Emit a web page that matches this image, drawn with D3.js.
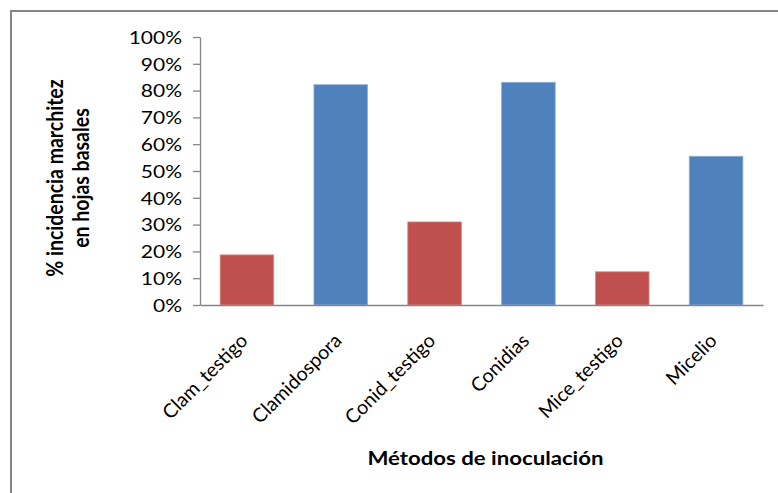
<!DOCTYPE html>
<html>
<head>
<meta charset="utf-8">
<script src="https://cdn.jsdelivr.net/npm/d3@7"></script>
<style>
  html, body { margin: 0; padding: 0; background: #fff; }
  svg { display: block; }
  text { font-family: Lato, "Open Sans", sans-serif; fill: #000; }
</style>
</head>
<body>
<svg id="chart" width="778" height="493"></svg>
<script>
// Incidence of wilting in basal leaves by inoculation method
const categories = ["Clam_testigo", "Clamidospora", "Conid_testigo", "Conidias", "Mice_testigo", "Micelio"];
const incidence = [0.187, 0.822, 0.310, 0.831, 0.124, 0.555];
const groups = ["testigo", "inoculado", "testigo", "inoculado", "testigo", "inoculado"];
const yTicks = [0, 0.1, 0.2, 0.3, 0.4, 0.5, 0.6, 0.7, 0.8, 0.9, 1.0];
const yTitleLines = ["% incidencia marchitez", "en hojas basales"];
const xTitle = "Métodos de inoculación";

const groupColor = d3.scaleOrdinal()
  .domain(["testigo", "inoculado"])
  .range(["#C0504D", "#4F81BD"]);
const groupEdge = d3.scaleOrdinal()
  .domain(["testigo", "inoculado"])
  .range(["#d9908e", "#8fb0d8"]);

const svg = d3.select("#chart");
const W = 778, H = 493;
const axisColor = "#868686";
const sx = 1.2; // glyphs drawn slightly wide

const plot = { left: 200, right: 763, top: 37, bottom: 305 };

// outer chart frame (runs past the right and bottom edges)
svg.append("rect")
  .attr("x", 11).attr("y", 11)
  .attr("width", W + 20).attr("height", H + 20)
  .attr("fill", "none")
  .attr("stroke", axisColor)
  .attr("stroke-width", 2);

const x = d3.scaleBand()
  .domain(categories)
  .range([plot.left, plot.right])
  .paddingInner(0.75 / 1.75)
  .paddingOuter(0.75 / 3.5);

const y = d3.scaleLinear()
  .domain([0, 1])
  .range([plot.bottom, plot.top]);

// bars
svg.append("g")
  .selectAll("rect")
  .data(categories)
  .join("rect")
  .attr("x", d => x(d))
  .attr("y", (d, i) => y(incidence[i]))
  .attr("width", x.bandwidth())
  .attr("height", (d, i) => y(0) - y(incidence[i]))
  .attr("fill", (d, i) => groupColor(groups[i]))
  .attr("stroke", (d, i) => groupEdge(groups[i]))
  .attr("stroke-width", 0.8);

// value axis
const yAxis = svg.append("g")
  .attr("transform", `translate(${plot.left},0)`)
  .call(d3.axisLeft(y)
    .tickValues(yTicks)
    .tickFormat(d3.format(".0%"))
    .tickSizeInner(7)
    .tickSizeOuter(0));
yAxis.select(".domain").attr("stroke", axisColor).attr("stroke-width", 1.3);
yAxis.selectAll(".tick line").attr("stroke", axisColor).attr("stroke-width", 1.3);
yAxis.selectAll(".tick text")
  .attr("x", null)
  .attr("dy", "0.36em")
  .attr("transform", `translate(-18,0) scale(${sx},1)`)
  .style("font-size", "17.5px")
  .attr("fill", "#000");

// category axis
const xAxis = svg.append("g")
  .attr("transform", `translate(0,${plot.bottom})`)
  .call(d3.axisBottom(x).tickSize(0).tickSizeOuter(0));
xAxis.select(".domain").attr("stroke", axisColor).attr("stroke-width", 1.3);
xAxis.selectAll(".tick text")
  .attr("y", null)
  .attr("dy", null)
  .attr("text-anchor", "end")
  .attr("transform", "translate(2,37) rotate(-45)")
  .style("font-size", "19.5px")
  .attr("fill", "#000");

// axis titles
const yTitle = svg.append("text")
  .attr("transform", `translate(63,178) scale(${sx},1) rotate(-90)`)
  .attr("text-anchor", "middle")
  .style("font-size", "19.5px")
  .style("font-weight", "bold");
yTitle.append("tspan").attr("x", 0).attr("y", 0).text(yTitleLines[0]);
yTitle.append("tspan").attr("x", 0).attr("y", 21.5).text(yTitleLines[1]);

svg.append("text")
  .attr("transform", `translate(${(plot.left + plot.right) / 2 + 4},465) scale(${sx},1)`)
  .attr("text-anchor", "middle")
  .style("font-size", "18.5px")
  .style("font-weight", "bold")
  .text(xTitle);
</script>
</body>
</html>
